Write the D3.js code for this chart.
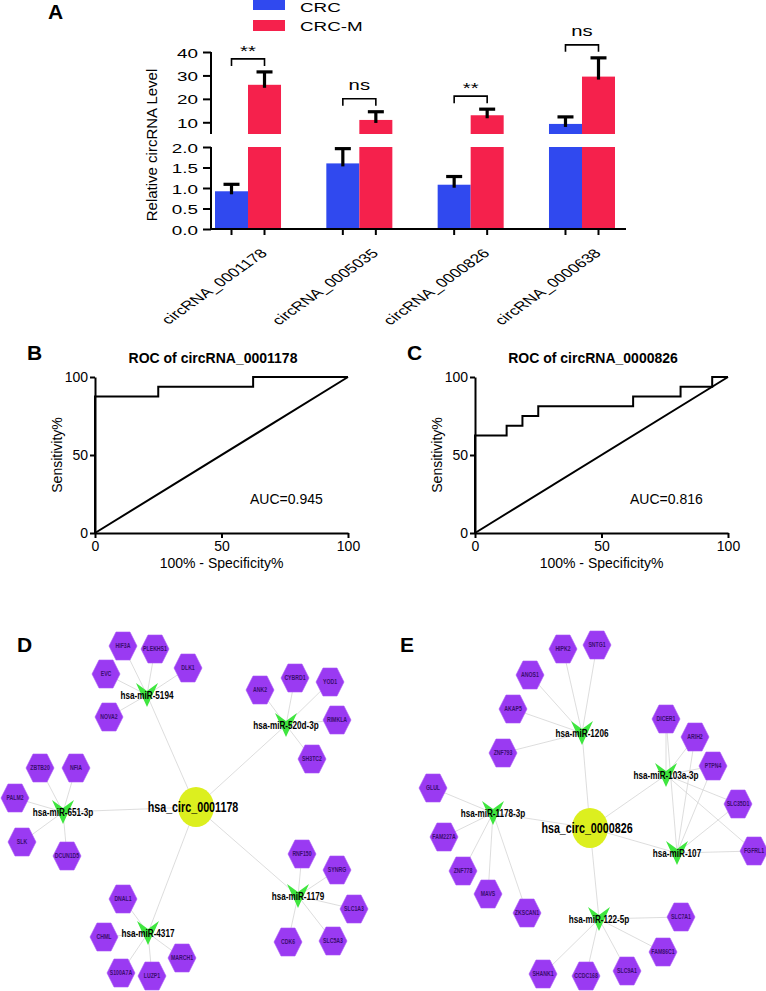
<!DOCTYPE html>
<html><head><meta charset="utf-8">
<script src="https://cdn.jsdelivr.net/npm/d3@7"></script>
<style>
body{margin:0;background:#fff}
svg{display:block}
text{font-family:"Liberation Sans",Arial,Helvetica,sans-serif;fill:#000}
</style>
</head><body>
<svg id="c" width="766" height="991"></svg>
<script>
// ================= DATA =================
// Panel A
const categories = ["circRNA_0001178", "circRNA_0005035", "circRNA_0000826", "circRNA_0000638"];
const seriesNames = ["CRC", "CRC-M"];
const crcMean = [0.92, 1.6, 1.08, 9.3];
const crcErr = [0.17, 0.36, 0.2, 3.0];
const crcmMean = [26, 11, 13, 29.5];
const crcmErr = [5.5, 3.5, 2.6, 8.0];
const significance = ["**", "ns", "**", "ns"];
const lowerTicks = [0, 0.5, 1.0, 1.5, 2.0];
const upperTicks = [10, 20, 30, 40];

// Panel B / C ROC
const rocTicks = [0, 50, 100];
const rocB_fpr = [0, 0, 25, 25, 62.5, 62.5, 100];
const rocB_tpr = [0, 87.5, 87.5, 93.75, 93.75, 100, 100];
const rocC_fpr = [0, 0, 12.5, 12.5, 18.75, 18.75, 25, 25, 62.5, 62.5, 81.25, 81.25, 93.75, 93.75, 100];
const rocC_tpr = [0, 62.5, 62.5, 68.75, 68.75, 75, 75, 81.25, 81.25, 87.5, 87.5, 93.75, 93.75, 100, 100];
const aucB = "AUC=0.945";
const aucC = "AUC=0.816";

// Panel D network
const dHub = "hsa_circ_0001178";
const dMirnas = ["hsa-miR-5194", "hsa-miR-520d-3p", "hsa-miR-651-3p", "hsa-miR-4317", "hsa-miR-1179"];
const dTargets = [
  ["HIF3A", "PLEKHS1", "DLK1", "EVC", "NOVA2"],
  ["ANK2", "CYBRD1", "YOD1", "RIMKLA", "SH3TC2"],
  ["ZBTB20", "NFIA", "PALM2", "SLK", "DCUN1D5"],
  ["DNAL1", "CHML", "MARCH1", "S100A7A", "LUZP1"],
  ["RNF150", "SYNRG", "SLC1A3", "CDK6", "SLC5A3"]
];
// Panel E network
const eHub = "hsa_circ_0000826";
const eMirnas = ["hsa-miR-1206", "hsa-miR-1178-3p", "hsa-miR-103a-3p", "hsa-miR-107", "hsa-miR-122-5p"];
const eTargets = [
  ["HIPK2", "ANOS1", "AKAP5", "ZNF793", "SNTG1"],
  ["GLUL", "FAM227A", "ZNF778", "MAVS", "ZKSCAN1"],
  ["DICER1", "ARIH2", "PTPN4", "SLC35D1", "FGFRL1"],
  ["DICER1", "ARIH2", "PTPN4", "SLC35D1", "FGFRL1"],
  ["SLC7A1", "FAM86C1", "SLC9A1", "CCDC168", "SHANK1"]
];

// ================= LAYOUT (network node placement, panel units) =================
const dLayout = {
  "hsa_circ_0001178": [196, 177],
  "hsa-miR-5194": [147, 65], "HIF3A": [123, 16], "PLEKHS1": [155, 19], "DLK1": [188, 38], "EVC": [106, 44], "NOVA2": [109, 87],
  "hsa-miR-520d-3p": [286, 95], "ANK2": [260, 60], "CYBRD1": [295, 48], "YOD1": [330, 52], "RIMKLA": [337, 90], "SH3TC2": [312, 129],
  "hsa-miR-651-3p": [63, 182], "ZBTB20": [40, 138], "NFIA": [76, 138], "PALM2": [15, 168], "SLK": [22, 212], "DCUN1D5": [67, 226],
  "hsa-miR-4317": [148, 303], "DNAL1": [123, 269], "CHML": [104, 307], "MARCH1": [182, 328], "S100A7A": [121, 343], "LUZP1": [152, 346],
  "hsa-miR-1179": [298, 266], "RNF150": [302, 224], "SYNRG": [337, 240], "SLC1A3": [354, 279], "CDK6": [288, 312], "SLC5A3": [333, 311]
};
const eLayout = {
  "hsa_circ_0000826": [200, 198],
  "hsa-miR-1206": [192, 103], "HIPK2": [173, 19], "ANOS1": [140, 45], "AKAP5": [123, 79], "ZNF793": [113, 123], "SNTG1": [207, 15],
  "hsa-miR-1178-3p": [103, 183], "GLUL": [43, 158], "FAM227A": [54, 207], "ZNF778": [73, 241], "MAVS": [98, 264], "ZKSCAN1": [137, 283],
  "hsa-miR-103a-3p": [276, 145], "hsa-miR-107": [287, 223], "DICER1": [276, 89], "ARIH2": [305, 107], "PTPN4": [323, 136], "SLC35D1": [348, 174], "FGFRL1": [364, 221],
  "hsa-miR-122-5p": [209, 289], "SLC7A1": [291, 287], "FAM86C1": [273, 322], "SLC9A1": [237, 341], "CCDC168": [196, 346], "SHANK1": [153, 344]
};

// ================= DRAW =================
const svg = d3.select("#c");
const STRETCH = 1.45;
const NET_SQUEEZE = 0.74;

function letter(x, y, t) {
  svg.append("text").attr("x", x).attr("y", y).text(t)
    .style("font-size", "21px").style("font-weight", "bold");
}

// ---------- Panel A ----------
const A = svg.append("g");
const x0 = d3.scaleBand().domain(categories).range([215, 615]).paddingInner(0.407).paddingOuter(0);
const x1 = d3.scaleBand().domain(seriesNames).range([0, x0.bandwidth()]);
const yLow = d3.scaleLinear().domain([0, 2]).range([229, 147]);
const yUp = d3.scaleLinear().domain([5, 40]).range([134, 52]);
const color = d3.scaleOrdinal().domain(seriesNames).range(["#3049ef", "#f5214c"]);
const axisX = 211;

function stretchText(g, x, y, t, size, anchor) {
  return g.append("text").attr("transform", `translate(${x},${y}) scale(${STRETCH},1)`)
    .attr("text-anchor", anchor).style("font-size", size + "px").text(t);
}

const rows = [];
categories.forEach((c, i) => {
  rows.push({ cat: c, s: "CRC", v: crcMean[i], e: crcErr[i] });
  rows.push({ cat: c, s: "CRC-M", v: crcmMean[i], e: crcmErr[i] });
});
const scaleFor = v => v <= 2 ? yLow : yUp;

rows.forEach(r => {
  const bx = x0(r.cat) + x1(r.s), bw = x1.bandwidth();
  const lowTop = Math.min(r.v, 2);
  A.append("rect").attr("x", bx).attr("width", bw)
    .attr("y", yLow(lowTop)).attr("height", yLow(0) - yLow(lowTop)).attr("fill", color(r.s));
  if (r.v > yUp.domain()[0]) {
    A.append("rect").attr("x", bx).attr("width", bw)
      .attr("y", yUp(r.v)).attr("height", yUp(yUp.domain()[0]) - yUp(r.v)).attr("fill", color(r.s));
  }
  const ys = scaleFor(r.v);
  const cx = bx + bw / 2;
  r.cx = cx; r.top = ys(r.v + r.e);
  A.append("line").attr("x1", cx).attr("x2", cx).attr("y1", ys(r.v) + 3).attr("y2", ys(r.v + r.e))
    .attr("stroke", "#000").attr("stroke-width", 3.2);
  A.append("line").attr("x1", cx - 8).attr("x2", cx + 8).attr("y1", ys(r.v + r.e)).attr("y2", ys(r.v + r.e))
    .attr("stroke", "#000").attr("stroke-width", 3.2);
});

// significance brackets
categories.forEach((c, i) => {
  const a = rows[2 * i], b = rows[2 * i + 1];
  const by = Math.min(a.top, b.top) - 13;
  A.append("path").attr("d", `M${a.cx},${by + 7}V${by}H${b.cx}V${by + 7}`)
    .attr("fill", "none").attr("stroke", "#000").attr("stroke-width", 1.6);
  stretchText(A, (a.cx + b.cx) / 2, significance[i] === "**" ? by - 3 : by - 9, significance[i], 14, "middle");
});

// axes
function styleAxis(g) {
  g.select(".domain").attr("stroke-width", 2).attr("stroke", "#000");
  g.selectAll(".tick line").attr("stroke-width", 2).attr("stroke", "#000");
  g.selectAll(".tick text").attr("x", null).attr("dy", null)
    .attr("transform", `translate(-13,5) scale(${STRETCH},1)`)
    .style("font-size", "13px").attr("font-family", null).attr("fill", "#000");
}
const gUp = A.append("g").attr("transform", `translate(${axisX},0)`)
  .call(d3.axisLeft(yUp).tickValues(upperTicks).tickSize(8).tickSizeOuter(0).tickFormat(d3.format("d")));
styleAxis(gUp);
const gLow = A.append("g").attr("transform", `translate(${axisX},0)`)
  .call(d3.axisLeft(yLow).tickValues(lowerTicks).tickSize(8).tickSizeOuter(0).tickFormat(d3.format(".1f")));
styleAxis(gLow);
gUp.select(".domain").attr("d", `M0,${yUp.range()[0]}V${yUp.range()[1]}`);
gLow.select(".domain").attr("d", `M0,${yLow.range()[0]}V${yLow.range()[1]}`);

A.append("line").attr("x1", axisX).attr("x2", 626).attr("y1", yLow(0)).attr("y2", yLow(0))
  .attr("stroke", "#000").attr("stroke-width", 2);
rows.forEach(r => {
  A.append("line").attr("x1", r.cx).attr("x2", r.cx).attr("y1", yLow(0)).attr("y2", yLow(0) + 6)
    .attr("stroke", "#000").attr("stroke-width", 2);
});
categories.forEach(c => {
  const cx = x0(c) + x0.bandwidth() / 2 + 20;
  A.append("text").attr("transform", `translate(${cx},254) scale(1.4,1) rotate(-45)`)
    .attr("text-anchor", "end").style("font-size", "12.5px").text(c);
});
A.append("text").attr("transform", "translate(157,145) rotate(-90)").attr("text-anchor", "middle")
  .style("font-size", "15px").text("Relative circRNA Level");

// legend
seriesNames.forEach((s, i) => {
  A.append("rect").attr("x", 253).attr("y", -1 + i * 21).attr("width", 32).attr("height", 11).attr("fill", color(s));
  stretchText(A, 300, 11.5 + i * 19.5, s, 13, "start");
});
letter(48, 19, "A");

// ---------- Panels B / C ----------
function rocPanel(opt) {
  const g = svg.append("g");
  const x = d3.scaleLinear().domain([0, 100]).range([opt.left, opt.left + 253]);
  const y = d3.scaleLinear().domain([0, 100]).range([533, 377]);
  const mid = (x.range()[0] + x.range()[1]) / 2;
  g.append("text").attr("x", mid - 8.5).attr("y", 363).attr("text-anchor", "middle")
    .style("font-size", "14px").style("font-weight", "bold").text(opt.title);
  const line = d3.line().x(d => x(d[0])).y(d => y(d[1]));
  g.append("path").attr("d", line([[0, 0], [100, 100]])).attr("fill", "none").attr("stroke", "#000").attr("stroke-width", 2);
  g.append("path").attr("d", line(opt.fpr.map((f, i) => [f, opt.tpr[i]])))
    .attr("fill", "none").attr("stroke", "#000").attr("stroke-width", 2);
  const gx = g.append("g").attr("transform", "translate(0,533)")
    .call(d3.axisBottom(x).tickValues(rocTicks).tickSize(5).tickSizeOuter(0).tickPadding(3));
  const gy = g.append("g").attr("transform", `translate(${opt.left},0)`)
    .call(d3.axisLeft(y).tickValues(rocTicks).tickSize(5).tickSizeOuter(0).tickPadding(2));
  [gx, gy].forEach(a => {
    a.select(".domain").attr("stroke-width", 2).attr("stroke", "#000");
    a.selectAll(".tick line").attr("stroke-width", 2).attr("stroke", "#000");
    a.selectAll(".tick text").style("font-size", "14px").attr("font-family", null).attr("fill", "#000");
  });
  g.append("text").attr("x", mid).attr("y", 568).attr("text-anchor", "middle")
    .style("font-size", "14px").text("100% - Specificity%");
  g.append("text").attr("transform", `translate(${opt.left - 33},455) rotate(-90)`).attr("text-anchor", "middle")
    .style("font-size", "14px").text("Sensitivity%");
  g.append("text").attr("x", opt.left + 155).attr("y", 504).style("font-size", "14px").text(opt.auc);
  letter(opt.left - 68, 360, opt.letter);
}
rocPanel({ left: 95, title: "ROC of circRNA_0001178", fpr: rocB_fpr, tpr: rocB_tpr, auc: aucB, letter: "B" });
rocPanel({ left: 475, title: "ROC of circRNA_0000826", fpr: rocC_fpr, tpr: rocC_tpr, auc: aucC, letter: "C" });

// ---------- Panels D / E networks ----------
const hexPts = [[-14, 0], [-7, -14], [7, -14], [14, 0], [7, 14], [-7, 14]];
const vPts = [[-11, -12], [0, -4], [11, -12], [0, 12]];
function squeezedText(g, x, y, t, size, fill) {
  return g.append("text").attr("transform", `translate(${x},${y}) scale(${NET_SQUEEZE},1)`)
    .attr("text-anchor", "middle").style("font-size", size + "px").style("font-weight", "bold")
    .style("fill", fill).text(t);
}
function network(originX, originY, hub, mirnas, targets, layout) {
  const g = svg.append("g");
  const px = d3.scaleLinear().domain([0, 1]).range([originX, originX + 1]);
  const py = d3.scaleLinear().domain([0, 1]).range([originY, originY + 1]);
  const P = n => [px(layout[n][0]), py(layout[n][1])];
  const edges = [];
  mirnas.forEach((m, i) => {
    edges.push([hub, m]);
    targets[i].forEach(t => edges.push([m, t]));
  });
  g.selectAll("line.edge").data(edges).join("line").attr("class", "edge")
    .attr("x1", d => P(d[0])[0]).attr("y1", d => P(d[0])[1])
    .attr("x2", d => P(d[1])[0]).attr("y2", d => P(d[1])[1])
    .attr("stroke", "#d4d4d4").attr("stroke-width", 0.8);
  const h = P(hub);
  g.append("ellipse").attr("cx", h[0]).attr("cy", h[1]).attr("rx", 18).attr("ry", 20).attr("fill", "#dcef1f");
  const genes = Array.from(new Set(targets.flat()));
  const poly = pts => pts.map(p => p.join(",")).join(" ");
  genes.forEach(n => {
    const p = P(n);
    g.append("polygon").attr("points", poly(hexPts)).attr("transform", `translate(${p[0]},${p[1]})`)
      .attr("fill", "#9a3af2").attr("stroke", "#a855f7").attr("stroke-width", 0.6);
    squeezedText(g, p[0], p[1] + 2.4, n, 7, "#3a0d70");
  });
  mirnas.forEach(m => {
    const p = P(m);
    g.append("polygon").attr("points", poly(vPts)).attr("transform", `translate(${p[0]},${p[1]})`)
      .attr("fill", "#3fe63f");
  });
  mirnas.forEach(m => {
    const p = P(m);
    squeezedText(g, p[0], p[1] + 4, m, 11, "#000");
  });
  squeezedText(g, h[0] - 3, h[1] + 5, hub, 14.5, "#000");
}
network(0, 630, dHub, dMirnas, dTargets, dLayout);
network(390, 630, eHub, eMirnas, eTargets, eLayout);
letter(17, 652, "D");
letter(400, 652, "E");
</script>
</body></html>
